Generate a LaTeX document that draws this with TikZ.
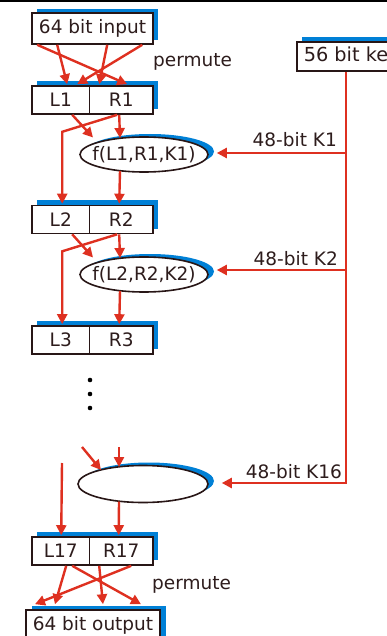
\documentclass[tikz,border=0pt]{standalone}
\usepackage{fontspec}
\setmainfont{DejaVu Sans}
\usetikzlibrary{arrows.meta,shapes.geometric,shadows,calc}
\definecolor{redc}{RGB}{222,48,32}
\definecolor{shblue}{RGB}{0,128,214}
\definecolor{bord}{RGB}{40,22,22}
\definecolor{txtc}{RGB}{45,28,28}
\begin{document}
\begin{tikzpicture}[x=1pt,y=-1pt,
  txt/.style={font=\fontsize{18.5}{22}\selectfont, text=txtc},
  boxsh/.style={general shadow={fill=shblue, shadow xshift=5pt, shadow yshift=5pt}},
  halfbox/.style={draw=bord, line width=1.6pt, fill=white, minimum height=28, inner sep=0, txt, boxsh},
  bigbox/.style={draw=bord, line width=1.6pt, fill=white, inner ysep=0, inner xsep=7pt, txt},
  fnode/.style={ellipse, draw=bord, line width=1.6pt, fill=white, minimum width=128, minimum height=35, inner sep=0, txt,
     general shadow={fill=shblue, shadow xshift=6pt, shadow yshift=3pt}},
  rl/.style={draw=redc, line width=2.4pt},
  arr/.style={rl, -{Triangle[length=10pt,width=10pt]}},
  lbl/.style={txt, inner sep=0},
]
\useasboundingbox (0,0) rectangle (387,636);
\clip (0,0) rectangle (387,636);
\fill[black] (0,0) rectangle (387,2);

% boxes
\node[bigbox, minimum width=121, minimum height=31, general shadow={fill=shblue, shadow xshift=5pt, shadow yshift=4pt}] (inp) at (92.5,28.5) {64 bit input};
\node[bigbox, minimum height=29, anchor=west, font=\fontsize{19.3}{22}\selectfont, general shadow={fill=shblue, shadow xshift=5pt, shadow yshift=5pt}] (key) at (296,56.5) {56 bit key};

\node[halfbox, minimum width=57.5] (L1) at (60.75,100) {L1};
\node[halfbox, minimum width=63.5] (R1) at (121.25,100) {R1};
\node[fnode] (f1) at (144,154.5) {\makebox[0pt]{f(L1,R1,K1)}};

\node[halfbox, minimum width=57.5] (L2) at (60.75,219.5) {L2};
\node[halfbox, minimum width=63.5] (R2) at (121.25,219.5) {R2};
\node[fnode] (f2) at (144,274.5) {\makebox[0pt]{f(L2,R2,K2)}};

\node[halfbox, minimum width=57.5] (L3) at (60.75,340) {L3};
\node[halfbox, minimum width=63.5] (R3) at (121.25,340) {R3};

\fill[black] (90,380) circle (2.3) (90,394) circle (2.3) (90,408) circle (2.3);

\node[fnode, minimum width=130, minimum height=37] (f16) at (143,484) {};

\node[halfbox, minimum width=57.5] (L17) at (60.75,551) {L17};
\node[halfbox, minimum width=63.5] (R17) at (121.25,551) {R17};

\node[bigbox, minimum width=132, minimum height=31, general shadow={fill=shblue, shadow xshift=6pt, shadow yshift=4pt}] (out) at (93,625.5) {64 bit output};

% labels
\node[lbl, anchor=base west] (p1) at (153,67) {permute};
\node[lbl, anchor=base west] (p2) at (152,589) {permute};
\node[lbl, anchor=base east] (lk1) at (337,147) {48-bit K1};
\node[lbl, anchor=base east] (lk2) at (338,265) {48-bit K2};
\node[lbl, anchor=base east] (lk16) at (342,478) {48-bit K16};

% key schedule
\coordinate (k1) at (346,153);
\coordinate (k2) at (346,270);
\coordinate (k16) at (346,483);
\draw[arr] (key.south -| k1) -- (k16) -- ($(k16 -| f16.east)+(13,0)$);
\draw[arr] (k1) -- ($(k1 -| f1.east)+(8,0)$);
\draw[arr] (k2) -- ($(k2 -| f2.east)+(8,0)$);

% initial permutation
\draw[arr] ($(inp.south west)+(6,0)$) -- ($(R1.north west)+(38.5,-1)$);
\draw[arr] ($(inp.south west)+(26,0)$) -- ($(L1.north west)+(36,-1)$);
\draw[arr] ($(inp.south west)+(76,0)$) -- ($(R1.north west)+(10.5,-1)$);
\draw[arr] ($(inp.south west)+(111,0)$) -- ($(L1.north west)+(46,-1)$);

% round 1
\draw[arr] ($(L1.south west)+(41,0)$) -- ($(f1.center)+(-51,-17)$);
\draw[arr] ($(R1.south west)+(30.5,0)$) -- ($(f1.center)+(-24,-16.5)$);
\draw[arr] ($(R1.south west)+(28.5,0)$) -- ($(L1.south west)+(31,17)$) -- ($(L2.north west)+(31,-1)$);
\draw[arr] ($(f1.center)+(-24,16.5)$) -- ($(R2.north west)+(30.5,-1)$);

% round 2
\draw[arr] ($(L2.south west)+(41,0)$) -- ($(f2.center)+(-51,-17)$);
\draw[arr] ($(R2.south west)+(30.5,0)$) -- ($(f2.center)+(-24,-16.5)$);
\draw[arr] ($(R2.south west)+(28.5,0)$) -- ($(L2.south west)+(31,17)$) -- ($(L3.north west)+(31,-1)$);
\draw[arr] ($(f2.center)+(-24,16.5)$) -- ($(R3.north west)+(30.5,-1)$);

% round 16
\coordinate (d1) at (82,447);
\coordinate (d2) at (119,447);
\coordinate (d3) at (62,463);
\draw[arr] (d1) -- ($(f16.center)+(-42,-14)$);
\draw[arr] (d2) -- ($(f16.center)+(-24,-17)$);
\draw[arr] (d3) -- ($(L17.north west)+(30,-1)$);
\draw[arr] ($(f16.center)+(-24,17.5)$) -- ($(R17.north west)+(30,-1)$);

% final permutation
\draw[arr] ($(L17.south west)+(35,0)$) -- ($(out.north west)+(30,-5)$);
\draw[arr] ($(L17.south west)+(41,0)$) -- ($(out.north west)+(116,-5)$);
\draw[arr] ($(R17.south west)+(10.5,0)$) -- ($(out.north west)+(78,-5)$);
\draw[arr] ($(R17.south west)+(42.5,0)$) -- ($(out.north west)+(10,-5)$);
\end{tikzpicture}
\end{document}
